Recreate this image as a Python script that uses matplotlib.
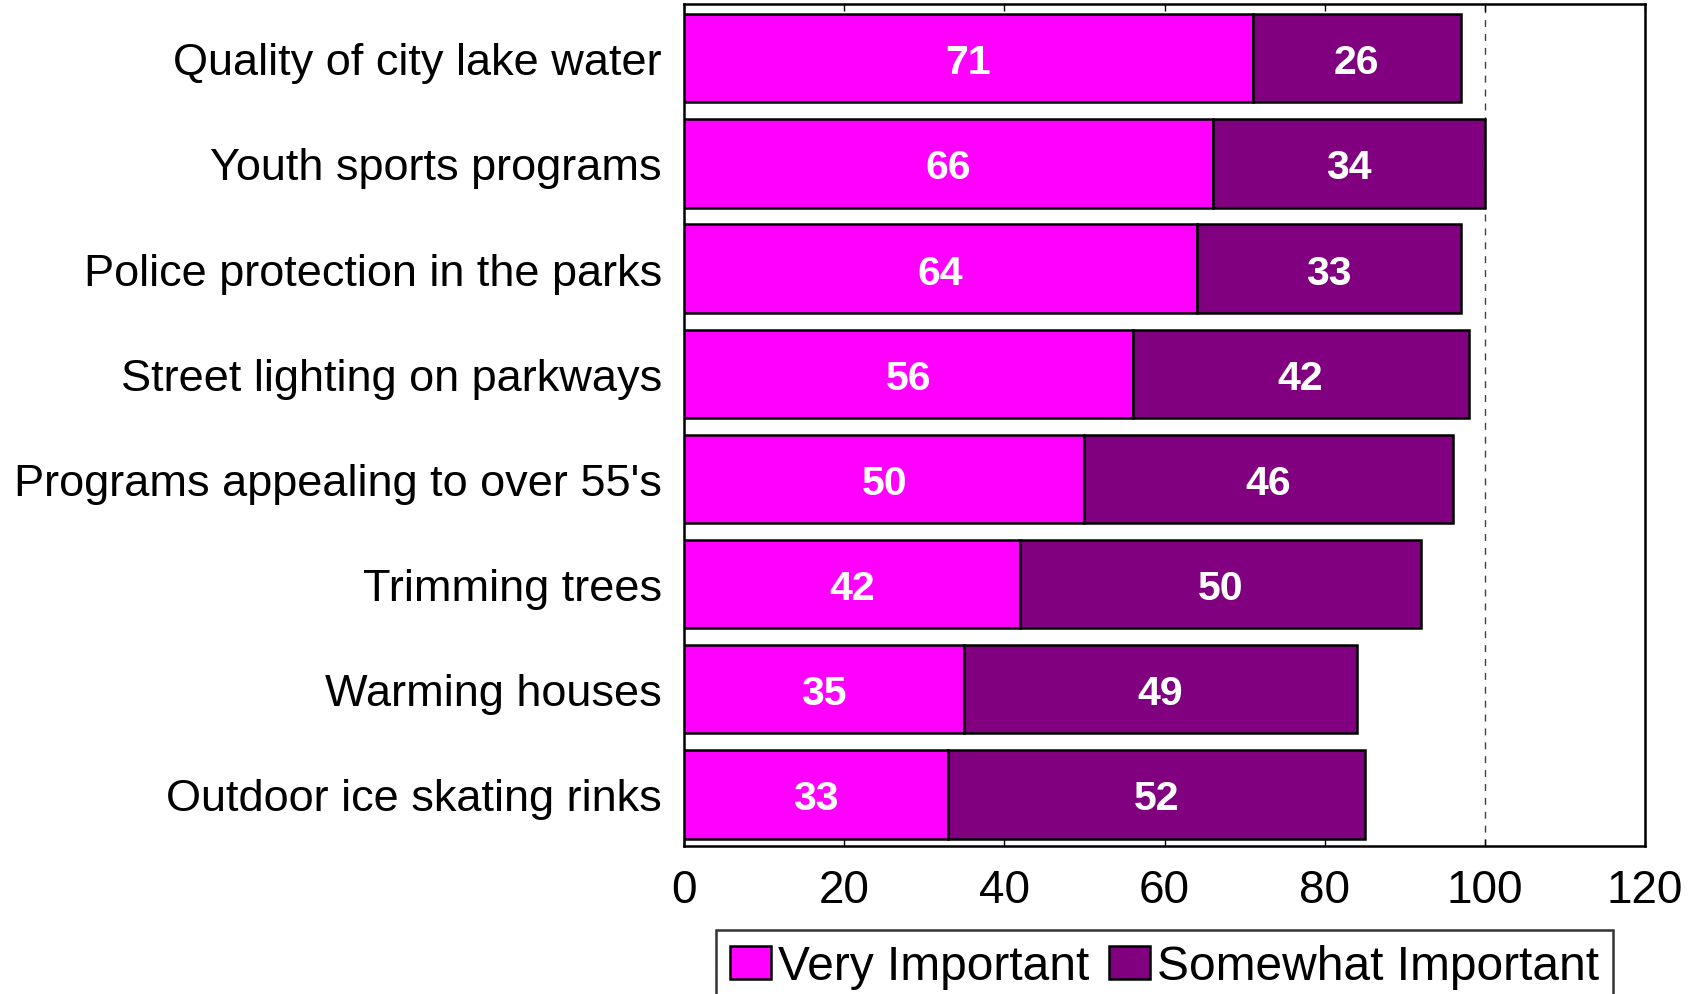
import matplotlib
matplotlib.use('Agg')
import matplotlib.pyplot as plt
import numpy as np

# data
categories = ['Quality of city lake water', 'Youth sports programs',
              'Police protection in the parks', 'Street lighting on parkways',
              "Programs appealing to over 55's", 'Trimming trees',
              'Warming houses', 'Outdoor ice skating rinks']
very_important = [71, 66, 64, 56, 50, 42, 35, 33]
somewhat_important = [26, 34, 33, 42, 46, 50, 49, 52]
xticks = [0, 20, 40, 60, 80, 100, 120]

font = 'Liberation Sans'

fig = plt.figure(figsize=(16.94, 9.95), dpi=100)
ax = fig.add_axes([0.4038, 0.1487, 0.5673, 0.8463])

y = np.arange(len(categories))
b1 = ax.barh(y, very_important, height=0.84, color='#FF00FF', edgecolor='black',
             linewidth=1.8, label='Very Important', zorder=3)
b2 = ax.barh(y, somewhat_important, left=very_important, height=0.84, color='#800080',
             edgecolor='black', linewidth=1.8, label='Somewhat Important', zorder=3)

# value labels in the middle of each segment
for i in range(len(categories)):
    ax.text(very_important[i] / 2, y[i], str(very_important[i]), ha='center',
            va='center_baseline', color='white', fontsize=29.5, fontweight='bold',
            family=font, zorder=4)
    ax.text(very_important[i] + somewhat_important[i] / 2, y[i], str(somewhat_important[i]),
            ha='center', va='center_baseline', color='white', fontsize=29.5,
            fontweight='bold', family=font, zorder=4)

ax.axvline(100, color='#404040', linestyle=(0, (5, 5)), linewidth=1, zorder=1)

ax.set_xlim(0, 120)
ax.set_ylim(len(categories) - 0.51, -0.515)
ax.set_xticks(xticks)
ax.set_xticklabels([str(t) for t in xticks], family=font, fontsize=33)
ax.set_yticks(y)
ax.set_yticklabels(categories, family=font, fontsize=32.5)
ax.tick_params(axis='x', direction='in', length=5, width=1, top=True, pad=16)
ax.tick_params(axis='y', length=0, pad=16)
for s in ax.spines.values():
    s.set_linewidth(1.8)

leg = fig.legend(handles=[b1, b2], loc='upper center', bbox_to_anchor=(0.6875, 1 - 931 / 995),
                 ncol=2, prop={'family': font, 'size': 34.5}, frameon=True, fancybox=False,
                 edgecolor='black', handlelength=0.85, handleheight=0.7, handletextpad=0.15,
                 columnspacing=0.4, borderpad=0.3, borderaxespad=0)
leg.get_frame().set_linewidth(1.8)

fig.savefig('out.png', dpi=100)
